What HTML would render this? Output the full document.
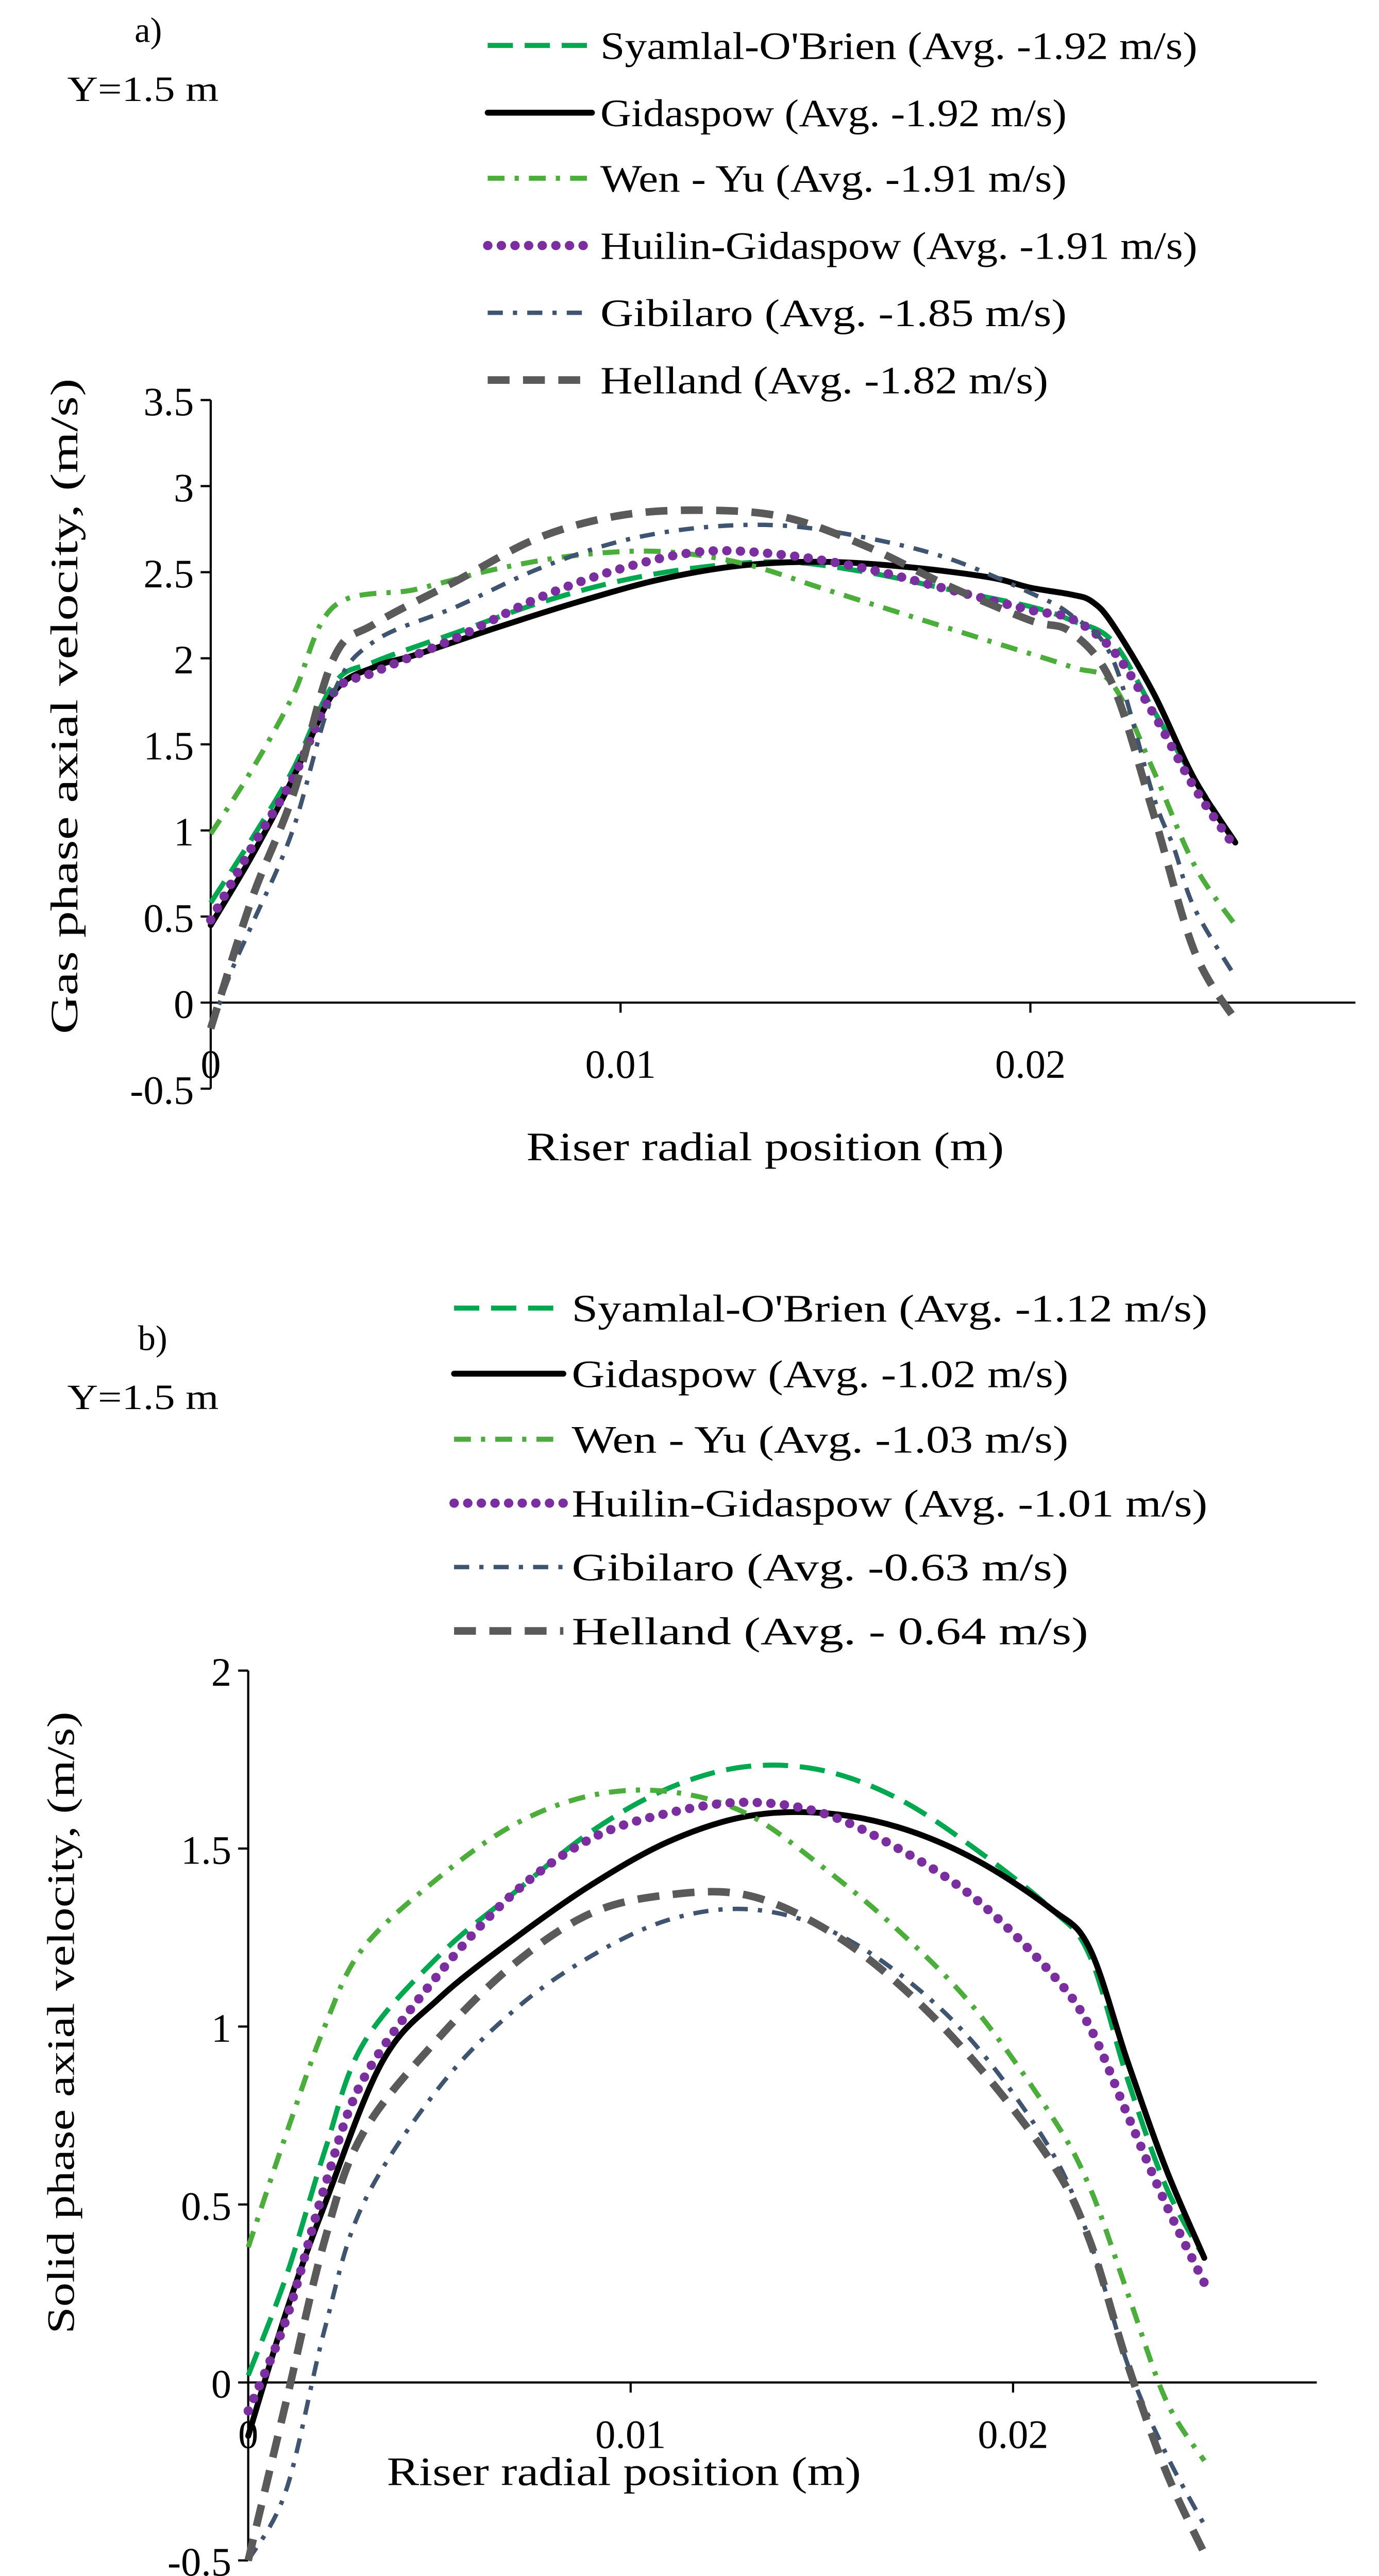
<!DOCTYPE html>
<html><head><meta charset="utf-8"><style>
html,body{margin:0;padding:0;background:#fff;width:2676px;height:5065px;overflow:hidden}
svg{display:block}
text{font-family:"Liberation Serif",serif;fill:#000}
</style></head><body>
<svg id="root" width="2676" height="5065" viewBox="0 0 820 1552" xmlns="http://www.w3.org/2000/svg">
<g id="chartA"></g>
<g id="chartB"></g>
</svg>
<script>
const NS="http://www.w3.org/2000/svg";
const seriesNames=["Syamlal-O'Brien","Gidaspow","Wen - Yu","Huilin-Gidaspow","Gibilaro","Helland"];
const avgA=["-1.92","-1.92","-1.91","-1.91","-1.85","-1.82"];
const avgB=["-1.12","-1.02","-1.03","-1.01","-0.63"," - 0.64"];
const xTicks=[0,0.01,0.02];
const xTickLabels=["0","0.01","0.02"];
const yTicksA=[-0.5,0,0.5,1,1.5,2,2.5,3,3.5];
const yTickLabelsA=["-0.5","0","0.5","1","1.5","2","2.5","3","3.5"];
const yTicksB=[-0.5,0,0.5,1,1.5,2];
const yTickLabelsB=["-0.5","0","0.5","1","1.5","2"];
// chart a data: [x(m), v(m/s)]
const a_syamlal=[[0,0.58],[0.001,0.95],[0.002,1.35],[0.003,1.85],[0.004,1.98],[0.006,2.15],[0.008,2.32],[0.010,2.45],[0.012,2.53],[0.014,2.56],[0.016,2.5],[0.018,2.4],[0.020,2.3],[0.021,2.22],[0.022,2.1],[0.023,1.7],[0.024,1.3],[0.025,0.93]];
const a_gidaspow=[[0,0.45],[0.001,0.85],[0.002,1.3],[0.003,1.8],[0.004,1.95],[0.005,2.02],[0.007,2.18],[0.009,2.33],[0.011,2.46],[0.013,2.54],[0.015,2.56],[0.017,2.53],[0.019,2.47],[0.020,2.41],[0.021,2.37],[0.0215,2.33],[0.022,2.2],[0.023,1.8],[0.024,1.3],[0.025,0.93]];
const a_wenyu=[[0,0.98],[0.001,1.35],[0.002,1.78],[0.003,2.3],[0.005,2.4],[0.007,2.52],[0.009,2.6],[0.011,2.62],[0.013,2.55],[0.015,2.4],[0.017,2.25],[0.019,2.1],[0.021,1.95],[0.022,1.85],[0.023,1.35],[0.024,0.8],[0.025,0.45]];
const a_huilin=[[0,0.48],[0.001,0.9],[0.002,1.3],[0.003,1.8],[0.004,1.92],[0.006,2.12],[0.008,2.35],[0.010,2.52],[0.012,2.62],[0.014,2.6],[0.016,2.52],[0.018,2.4],[0.020,2.28],[0.021,2.23],[0.022,2.05],[0.023,1.68],[0.024,1.25],[0.025,0.9]];
const a_gibilaro=[[0,-0.15],[0.0005,0.18],[0.001,0.45],[0.002,1.0],[0.003,1.8],[0.004,2.1],[0.006,2.3],[0.008,2.52],[0.010,2.68],[0.012,2.76],[0.014,2.77],[0.016,2.7],[0.018,2.58],[0.020,2.38],[0.021,2.25],[0.022,2.0],[0.023,1.2],[0.0235,0.9],[0.024,0.55],[0.025,0.15]];
const a_helland=[[0,-0.15],[0.001,0.6],[0.002,1.2],[0.003,2.0],[0.004,2.2],[0.006,2.45],[0.008,2.7],[0.010,2.83],[0.012,2.86],[0.014,2.82],[0.016,2.65],[0.018,2.42],[0.020,2.22],[0.021,2.15],[0.022,1.85],[0.023,1.1],[0.024,0.3],[0.025,-0.1]];
// chart b data
const b_syamlal=[[0,0.02],[0.001,0.3],[0.002,0.65],[0.003,0.95],[0.005,1.2],[0.007,1.38],[0.009,1.55],[0.011,1.67],[0.013,1.73],[0.015,1.72],[0.017,1.64],[0.019,1.5],[0.021,1.33],[0.022,1.2],[0.023,0.85],[0.024,0.55],[0.025,0.35]];
const b_gidaspow=[[0,-0.15],[0.001,0.2],[0.002,0.5],[0.0035,0.9],[0.005,1.08],[0.007,1.25],[0.009,1.4],[0.011,1.52],[0.013,1.59],[0.015,1.6],[0.017,1.56],[0.019,1.47],[0.021,1.33],[0.022,1.22],[0.023,0.9],[0.024,0.6],[0.025,0.35]];
const b_wenyu=[[0,0.38],[0.001,0.7],[0.002,1.0],[0.003,1.22],[0.005,1.42],[0.007,1.57],[0.009,1.65],[0.011,1.66],[0.013,1.6],[0.015,1.45],[0.017,1.27],[0.019,1.05],[0.021,0.75],[0.022,0.55],[0.023,0.25],[0.024,-0.05],[0.025,-0.22]];
const b_huilin=[[0,-0.08],[0.001,0.18],[0.002,0.55],[0.003,0.85],[0.005,1.15],[0.007,1.38],[0.009,1.53],[0.011,1.6],[0.013,1.63],[0.015,1.6],[0.017,1.5],[0.019,1.36],[0.021,1.15],[0.022,1.0],[0.023,0.75],[0.024,0.5],[0.025,0.28]];
const b_gibilaro=[[0,-0.5],[0.001,-0.3],[0.002,0.15],[0.003,0.5],[0.005,0.83],[0.007,1.05],[0.009,1.2],[0.011,1.3],[0.013,1.33],[0.015,1.28],[0.017,1.15],[0.019,0.95],[0.021,0.65],[0.022,0.4],[0.023,0.05],[0.024,-0.2],[0.025,-0.4]];
const b_helland=[[0,-0.5],[0.001,-0.05],[0.002,0.4],[0.003,0.7],[0.005,0.97],[0.007,1.18],[0.009,1.32],[0.011,1.37],[0.013,1.37],[0.015,1.28],[0.017,1.12],[0.019,0.9],[0.021,0.62],[0.022,0.4],[0.023,0.05],[0.024,-0.25],[0.025,-0.48]];

const styles=[
 {c:"#00a84f",w:3,d:"15,7",cap:"butt"},
 {c:"#000",w:3.5,d:"",cap:"round"},
 {c:"#4cae3a",w:3,d:"10,6,2.5,6",cap:"butt"},
 {c:"#7a2ea0",w:5.5,d:"0.1,8",cap:"round"},
 {c:"#3f5470",w:2.6,d:"9,6,2.5,6",cap:"butt"},
 {c:"#5a5a5a",w:4.5,d:"13,8",cap:"butt"}];
const slugs=["syamlal-obrien","gidaspow","wen-yu","huilin-gidaspow","gibilaro","helland"];

function el(tag,attrs,parent,txt){const e=document.createElementNS(NS,tag);for(const k in attrs)e.setAttribute(k,attrs[k]);if(txt!==undefined)e.textContent=txt;parent.appendChild(e);return e;}
function smooth(pts){let d="M"+pts[0][0]+","+pts[0][1];for(let i=0;i<pts.length-1;i++){const p0=pts[Math.max(0,i-1)],p1=pts[i],p2=pts[i+1],p3=pts[Math.min(pts.length-1,i+2)];const c1=[p1[0]+(p2[0]-p0[0])/6,p1[1]+(p2[1]-p0[1])/6],c2=[p2[0]-(p3[0]-p1[0])/6,p2[1]-(p3[1]-p1[1])/6];d+=` C${c1[0]},${c1[1]} ${c2[0]},${c2[1]} ${p2[0]},${p2[1]}`;}return d;}

function draw(g,cfg){
 const X=v=>cfg.x0+(v/0.01)*(cfg.x1-cfg.x0);
 const Y=v=>cfg.y0-v*cfg.ppu;
 for(let i=0;i<6;i++){
  const ly=cfg.legY[i];
  const s=styles[i];
  const ln=el("line",{x1:cfg.legX0,y1:ly,x2:cfg.legX1,y2:ly,stroke:s.c,"stroke-width":s.w,"stroke-dasharray":s.d,"stroke-linecap":s.cap},g);
  
  
  const str=seriesNames[i]+" (Avg. "+cfg.avg[i]+" m/s)";
  const t=el("text",{x:cfg.legX1+5,y:ly+8,"font-size":23,textLength:(str.length*cfg.legCW).toFixed(1),lengthAdjust:"spacingAndGlyphs"},g,str);
  
  
 }
 const lab=el("text",{x:cfg.labX,y:cfg.labY,"font-size":21},g,cfg.lab);
 
 
 const yl=el("text",{x:40,y:cfg.labY+35,"font-size":21,textLength:90,lengthAdjust:"spacingAndGlyphs"},g,"Y=1.5 m");
 
 
 const yMin=cfg.yTicks[0],yMax=cfg.yTicks[cfg.yTicks.length-1];
 const ya=el("line",{x1:cfg.x0,y1:Y(yMin),x2:cfg.x0,y2:Y(yMax),stroke:"#000","stroke-width":1.3},g);
 
 
 const xa=el("line",{x1:cfg.x0,y1:Y(0),x2:cfg.xEnd,y2:Y(0),stroke:"#000","stroke-width":1.3},g);
 
 
 cfg.yTicks.forEach((v,i)=>{
  const tk=el("line",{x1:cfg.x0-6,y1:Y(v),x2:cfg.x0,y2:Y(v),stroke:"#000","stroke-width":1.3},g);
  
  
  const tl=el("text",{x:cfg.x0-10,y:Y(v)+9,"font-size":cfg.tfs,"text-anchor":"end"},g,cfg.yLabels[i]);
  
  
 });
 xTicks.forEach((v,i)=>{
  if(v>0){const tk=el("line",{x1:X(v),y1:Y(0),x2:X(v),y2:Y(0)+6,stroke:"#000","stroke-width":1.3},g);
  
  }
  const tl=el("text",{x:X(v),y:cfg.xLabY,"font-size":cfg.tfs,"text-anchor":"middle"},g,xTickLabels[i]);
  
  
 });
 const xt=el("text",{x:cfg.xTitleX,y:cfg.xTitleY,"font-size":24,"text-anchor":"middle",textLength:cfg.xTitleW,lengthAdjust:"spacingAndGlyphs"},g,"Riser radial position (m)");
 
 
 const yt=el("text",{x:0,y:0,"font-size":23,"text-anchor":"middle",textLength:cfg.yTitleW,lengthAdjust:"spacingAndGlyphs",transform:`translate(${cfg.yTitleX},${cfg.yTitleY}) rotate(-90)`},g,cfg.yTitle);
 
 
 cfg.series.forEach((arr,i)=>{
  const s=styles[i];
  const pts=arr.map(p=>[+X(p[0]).toFixed(2),+Y(p[1]).toFixed(2)]);
  const p=el("path",{d:smooth(pts),fill:"none",stroke:s.c,"stroke-width":s.w,"stroke-dasharray":s.d,"stroke-linecap":s.cap,"stroke-linejoin":"round"},g);
  
  
 });
}
draw(document.getElementById("chartA"),{x0:125.3,x1:369,xEnd:806,y0:596.3,ppu:102.4,yTicks:yTicksA,yLabels:yTickLabelsA,
 legX0:290,legX1:352,legY:[27,67,106,146,186,226],avg:avgA,legCW:355/32,lab:"a)",labX:80,labY:25,tfs:24,xLabY:641,
 xTitleX:455,xTitleY:690,xTitleW:284,yTitleX:46,yTitleY:420,yTitleW:390,yTitle:"Gas phase axial  velocity, (m/s)",
 series:[a_syamlal,a_gidaspow,a_wenyu,a_huilin,a_gibilaro,a_helland]});
draw(document.getElementById("chartB"),{x0:147.6,x1:375,xEnd:783,y0:1417,ppu:211.7,yTicks:yTicksB,yLabels:yTickLabelsB,
 legX0:270,legX1:335,legY:[778,817,856,894,932,970],avg:avgB,legCW:378/32,lab:"b)",labX:82,labY:803,tfs:24,xLabY:1456,
 xTitleX:371,xTitleY:1478,xTitleW:282,yTitleX:44,yTitleY:1203,yTitleW:370,yTitle:"Solid phase axial velocity, (m/s)",
 series:[b_syamlal,b_gidaspow,b_wenyu,b_huilin,b_gibilaro,b_helland]});
</script>
</body></html>
